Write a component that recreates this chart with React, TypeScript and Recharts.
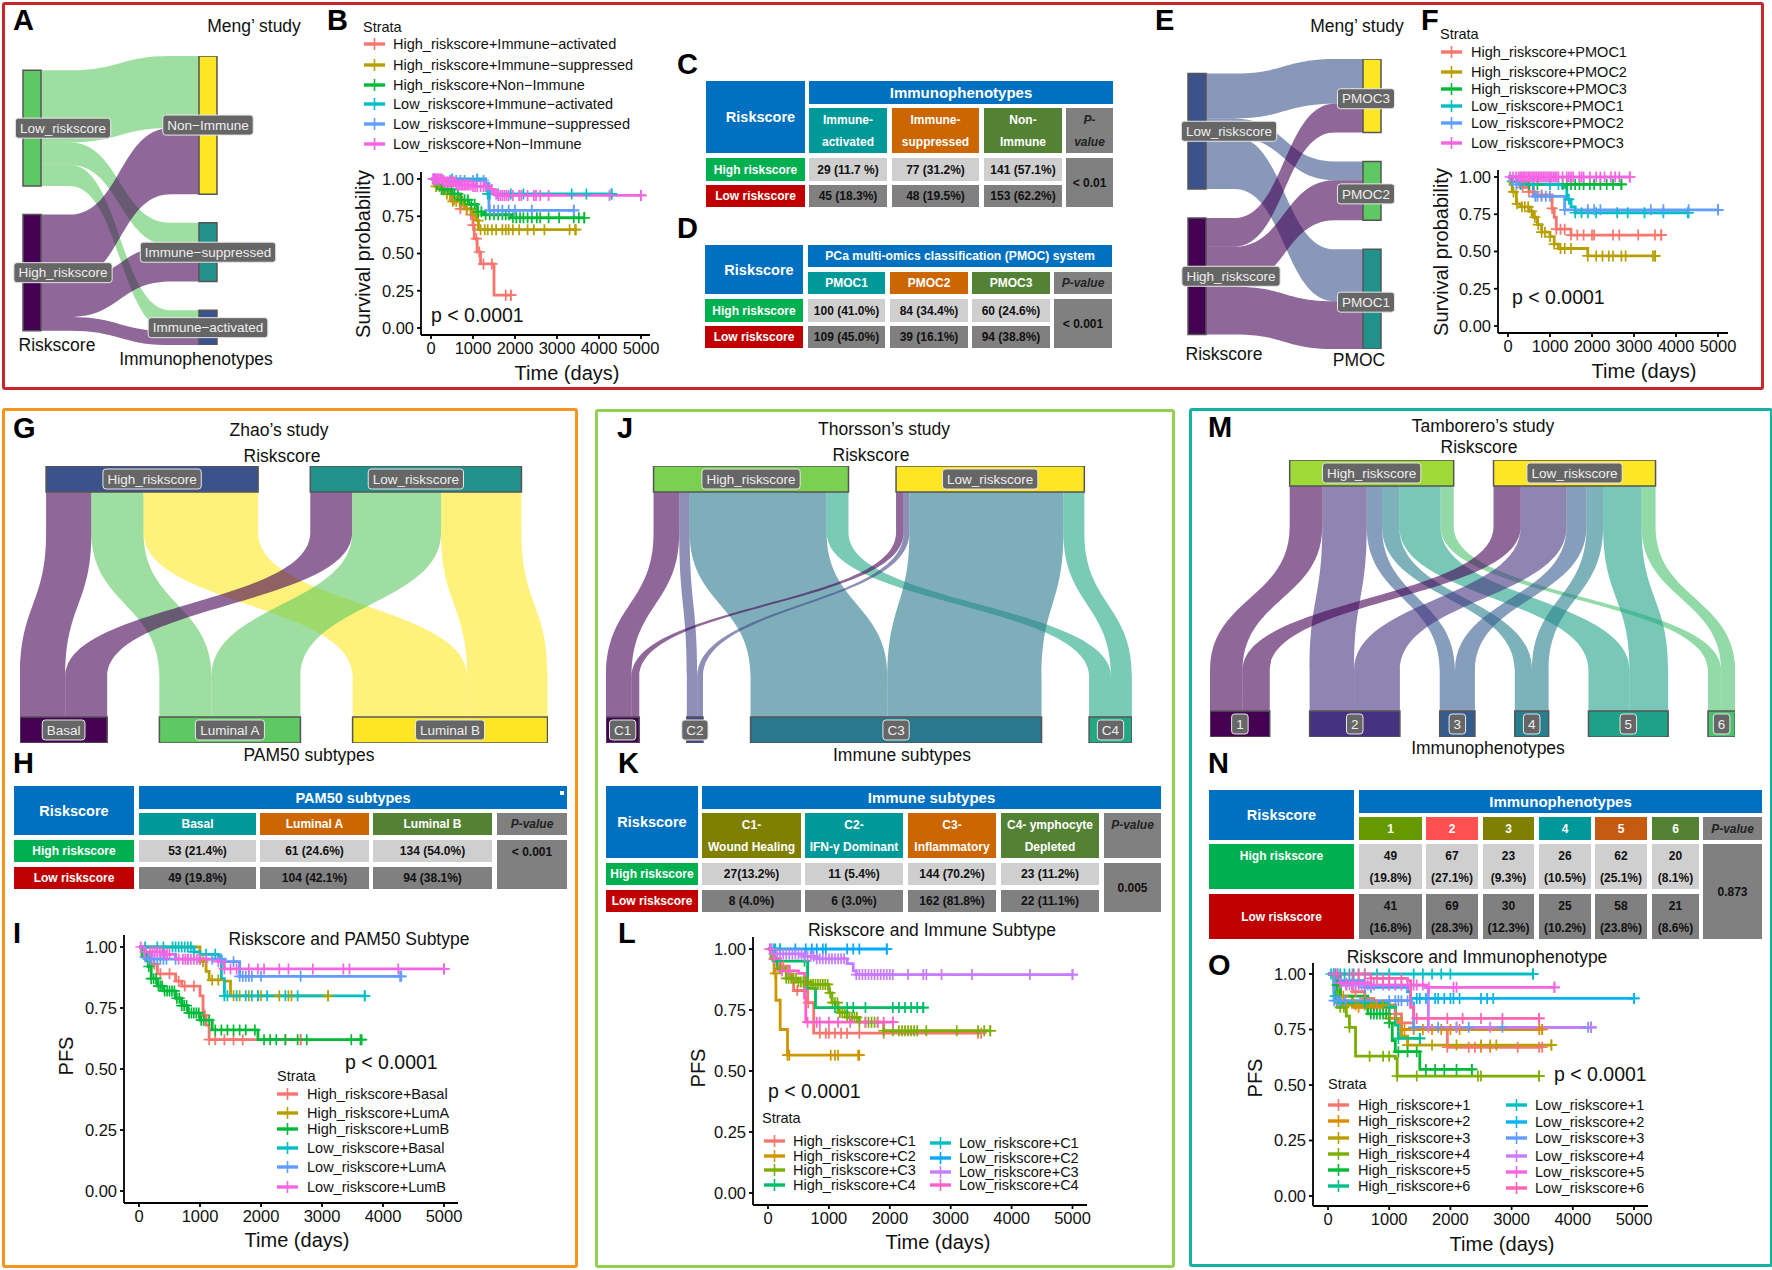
import React from "react";
import {
  Area,
  AreaChart,
  Line,
  LineChart,
  ReferenceArea,
  ReferenceDot,
  XAxis,
  YAxis,
} from "recharts";

const FONT = '"Liberation Sans", Arial, sans-serif';

// ggplot hue palettes
const HUE6 = ["#F8766D", "#B79F00", "#00BA38", "#00BFC4", "#619CFF", "#F564E3"];
const HUE8 = ["#F8766D", "#CD9600", "#7CAE00", "#00BE67", "#00BFC4", "#00A9FF", "#C77CFF", "#FF61CC"];
const HUE12 = ["#F8766D", "#DE8C00", "#B79F00", "#7CAE00", "#00BA38", "#00C08B", "#00BFC4", "#00B4F0", "#619CFF", "#C77CFF", "#F564E3", "#FF64B0"];

const TIME_TICKS = [0, 1000, 2000, 3000, 4000, 5000];
const SURV_TICKS = [0, 0.25, 0.5, 0.75, 1];

// --- alluvial counts (rows: risk group, columns: subtype)
const riskNames = ["High_riskscore", "Low_riskscore"];

const aTargets = ["Non\u2212Immune", "Immune\u2212suppressed", "Immune\u2212activated"];
const aCounts = [[153, 48, 45], [141, 77, 29]]; // Low first in this panel
const eTargets = ["PMOC3", "PMOC2", "PMOC1"];
const eCounts = [[94, 39, 109], [60, 84, 100]];
const gTargets = ["Basal", "Luminal A", "Luminal B"];
const gCounts = [[53, 61, 134], [49, 104, 94]];
const jTargets = ["C1", "C2", "C3", "C4"];
const jCounts = [[27, 11, 144, 23], [8, 6, 162, 22]];
const mTargets = ["1", "2", "3", "4", "5", "6"];
const mCounts = [[49, 67, 23, 26, 62, 20], [41, 69, 30, 25, 58, 21]];

// --- survival curves: step points [time, probability], censor times, last follow-up
const bNames = ["High_riskscore+Immune\u2212activated", "High_riskscore+Immune\u2212suppressed", "High_riskscore+Non\u2212Immune", "Low_riskscore+Immune\u2212activated", "Low_riskscore+Immune\u2212suppressed", "Low_riskscore+Non\u2212Immune"];
const bSteps = [
  [[0, 1], [100, 0.97], [300, 0.92], [500, 0.86], [700, 0.8], [950, 0.76], [1000, 0.69], [1030, 0.6], [1100, 0.51], [1180, 0.43], [1500, 0.22]],
  [[0, 1], [100, 0.95], [300, 0.9], [500, 0.85], [800, 0.8], [1000, 0.76], [1100, 0.72], [1130, 0.66]],
  [[0, 1], [100, 0.97], [250, 0.93], [500, 0.9], [700, 0.86], [900, 0.83], [1100, 0.78], [1250, 0.76], [1900, 0.74]],
  [[0, 1], [1300, 0.95], [1350, 0.9]],
  [[0, 1], [100, 0.99], [1300, 0.97], [1380, 0.79]],
  [[0, 1], [300, 0.98], [600, 0.96], [1000, 0.95], [1400, 0.93], [1500, 0.9], [1600, 0.89]],
];
const bCensors = [
  [550, 700, 850, 950, 1000, 1080, 1150, 1250, 1450, 1780, 1900],
  [120, 200, 280, 380, 450, 520, 600, 680, 750, 850, 950, 1050, 1120, 1180, 1280, 1350, 1450, 1550, 1700, 1780, 1850, 1950, 2100, 2300, 2450, 2700, 3300, 3430],
  [150, 250, 320, 400, 480, 560, 640, 720, 800, 880, 960, 1040, 1120, 1200, 1300, 1400, 1500, 1600, 1700, 1780, 1860, 1950, 2030, 2120, 2200, 2300, 2400, 2520, 2600, 2800, 3050, 3400, 3520, 3650],
  [100, 500, 1100, 1350, 1400, 1600, 1900, 2200, 3350, 3700, 4300],
  [60, 150, 300, 450, 600, 700, 800, 1000, 1100, 1250, 1400, 1500, 1600, 1700, 1850, 2000, 2400, 3400],
  [50, 90, 120, 160, 190, 230, 260, 300, 330, 370, 400, 440, 470, 510, 540, 580, 610, 650, 680, 720, 750, 790, 820, 860, 900, 950, 1000, 1050, 1100, 1180, 1250, 1300, 1450, 1550, 1600, 1650, 1700, 1750, 1800, 1850, 1950, 2100, 2150, 2300, 2450, 2500, 2600, 2800, 4250, 5000],
];
const bEnds = [1900, 3450, 3650, 4300, 3400, 5000];

const fNames = ["High_riskscore+PMOC1", "High_riskscore+PMOC2", "High_riskscore+PMOC3", "Low_riskscore+PMOC1", "Low_riskscore+PMOC2", "Low_riskscore+PMOC3"];
const fSteps = [
  [[0, 1], [200, 0.96], [300, 0.93], [500, 0.9], [650, 0.88], [1050, 0.79], [1100, 0.73], [1150, 0.65], [1500, 0.61]],
  [[0, 1], [50, 0.95], [100, 0.9], [200, 0.82], [300, 0.8], [500, 0.77], [600, 0.73], [700, 0.68], [800, 0.63], [1000, 0.6], [1100, 0.55], [1200, 0.52], [1900, 0.47]],
  [[0, 1], [100, 0.97], [500, 0.95]],
  [[0, 1], [100, 0.97], [300, 0.95], [1300, 0.93], [1400, 0.85], [1500, 0.8], [1600, 0.76]],
  [[0, 1], [200, 0.95], [600, 0.87], [1300, 0.87], [1350, 0.78]],
  [[0, 1]],
];
const fCensors = [
  [350, 500, 620, 800, 1050, 1150, 1250, 1350, 1500, 1650, 1800, 2000, 2050, 2500, 2650, 3100, 3500, 3650],
  [130, 220, 330, 400, 480, 560, 640, 720, 800, 880, 1000, 1100, 1250, 1350, 1500, 1900, 2100, 2250, 2400, 2500, 2700, 2800, 3450, 3500],
  [500, 700, 1300, 1400, 1500, 1600, 1700, 1800, 1950, 2050, 2200, 2350, 2500, 2700],
  [100, 300, 600, 1000, 1200, 1450, 1600, 1750, 1900, 2100, 2600, 2850, 3250, 3700, 4280],
  [200, 650, 700, 800, 900, 1000, 1350, 1900, 2050, 2200, 3400, 3700, 4300, 5000],
  [50, 120, 190, 250, 290, 330, 370, 400, 440, 480, 520, 560, 600, 640, 680, 720, 760, 800, 840, 880, 920, 960, 1000, 1040, 1080, 1120, 1160, 1200, 1300, 1400, 1450, 1500, 1550, 1700, 1750, 1800, 1950, 2100, 2200, 2300, 2450, 2550, 2650, 2900],
];
const fEnds = [3650, 3500, 2700, 4300, 5000, 2900];

const iNames = ["High_riskscore+Basal", "High_riskscore+LumA", "High_riskscore+LumB", "Low_riskscore+Basal", "Low_riskscore+LumA", "Low_riskscore+LumB"];
const iSteps = [
  [[0, 1], [100, 0.97], [200, 0.93], [300, 0.89], [600, 0.86], [700, 0.84], [1000, 0.8], [1050, 0.72], [1100, 0.68], [1150, 0.62]],
  [[0, 1], [1000, 0.94], [1100, 0.9], [1150, 0.865], [1400, 0.86], [1500, 0.8]],
  [[0, 1], [50, 0.96], [150, 0.92], [200, 0.87], [300, 0.84], [400, 0.82], [600, 0.79], [700, 0.76], [800, 0.73], [1000, 0.7], [1200, 0.66], [1950, 0.62]],
  [[0, 1], [900, 0.98], [1000, 0.97], [1300, 0.96], [1350, 0.87], [1400, 0.8]],
  [[0, 1], [100, 0.96], [150, 0.95], [1400, 0.94], [1650, 0.88]],
  [[0, 1], [100, 0.98], [400, 0.97], [600, 0.95], [1300, 0.94], [1400, 0.91]],
];
const iCensors = [
  [250, 350, 500, 650, 750, 900, 1080, 1150, 1250, 1400, 1550, 1700, 2400, 2650],
  [1050, 1200, 1300, 1550, 1650, 1800, 1950, 2000, 2300, 2450, 2500, 3100],
  [120, 160, 200, 240, 280, 320, 350, 380, 420, 460, 500, 540, 580, 620, 660, 700, 740, 780, 820, 860, 900, 940, 980, 1020, 1060, 1150, 1250, 1350, 1450, 1550, 1650, 1750, 1900, 2050, 2150, 2250, 2400, 2600, 2750, 3480, 3630],
  [100, 300, 400, 550, 600, 650, 700, 750, 800, 850, 900, 1100, 1250, 1400, 1450, 1600, 1750, 1850, 1950, 2100, 2400, 2600, 3700],
  [100, 150, 200, 250, 300, 350, 400, 450, 600, 800, 1000, 1200, 1350, 1550, 1650, 1700, 1750, 1800, 1850, 2000, 2650, 4280],
  [30, 100, 180, 220, 260, 300, 340, 380, 420, 460, 500, 650, 720, 760, 800, 850, 900, 950, 1000, 1100, 1300, 1400, 1500, 1600, 1800, 1950, 2050, 2300, 2450, 2850, 3350, 3450, 4250, 5000],
];
const iEnds = [2650, 3100, 3650, 3700, 4300, 5000];

const lNames = ["High_riskscore+C1", "High_riskscore+C2", "High_riskscore+C3", "High_riskscore+C4", "Low_riskscore+C1", "Low_riskscore+C2", "Low_riskscore+C3", "Low_riskscore+C4"];
const lSteps = [
  [[0, 1], [100, 0.96], [200, 0.93], [350, 0.88], [420, 0.83], [650, 0.78], [750, 0.655]],
  [[0, 1], [100, 0.9], [130, 0.79], [200, 0.67], [320, 0.565]],
  [[0, 1], [50, 0.96], [150, 0.92], [300, 0.88], [500, 0.865], [700, 0.855], [1000, 0.82], [1050, 0.78], [1150, 0.74], [1300, 0.72], [1500, 0.7], [1900, 0.665]],
  [[0, 1], [100, 0.95], [650, 0.84], [780, 0.76]],
  [[0, 1]],
  [[0, 1]],
  [[0, 1], [100, 0.98], [600, 0.97], [800, 0.96], [1300, 0.94], [1400, 0.91], [1450, 0.895]],
  [[0, 1], [100, 0.96], [200, 0.91], [500, 0.9], [600, 0.8], [620, 0.7]],
];
const lCensors = [
  [250, 400, 480, 660, 850, 950, 1000, 1100, 1200, 1300, 1500, 1900, 3450],
  [120, 320, 350, 1030, 1100, 1150, 1480],
  [100, 200, 300, 340, 380, 420, 460, 500, 540, 580, 620, 660, 700, 740, 780, 820, 860, 900, 940, 980, 1020, 1060, 1100, 1140, 1180, 1220, 1260, 1300, 1340, 1380, 1420, 1460, 1500, 1600, 1650, 1700, 1750, 1800, 1900, 2050, 2150, 2200, 2250, 2300, 2350, 2400, 2450, 2600, 3100, 3450, 3550, 3650],
  [150, 600, 1100, 1300, 1400, 1600, 2050, 2150, 2250, 2350, 2450, 2550],
  [60, 120, 200],
  [100, 450, 620, 720, 800, 900, 950, 1300, 1400, 1500, 1950],
  [50, 100, 150, 200, 250, 300, 350, 400, 450, 500, 550, 600, 650, 700, 750, 800, 850, 900, 950, 1000, 1050, 1100, 1150, 1200, 1250, 1450, 1500, 1550, 1600, 1650, 1700, 1750, 1800, 1850, 1900, 1950, 2000, 2050, 2300, 2550, 2600, 2850, 3350, 4300, 5000],
  [30, 100, 230, 350, 650, 800, 850, 1000, 1150, 1350, 1600, 1800, 1900, 2050],
];
const lEnds = [3500, 1500, 3650, 2550, 200, 1950, 5000, 2050];

const oNames = ["High_riskscore+1", "High_riskscore+2", "High_riskscore+3", "High_riskscore+4", "High_riskscore+5", "High_riskscore+6", "Low_riskscore+1", "Low_riskscore+2", "Low_riskscore+3", "Low_riskscore+4", "Low_riskscore+5", "Low_riskscore+6"];
const oSteps = [
  [[0, 1], [200, 0.95], [400, 0.92], [600, 0.89], [750, 0.86], [1100, 0.82], [1200, 0.78], [1400, 0.75], [1950, 0.67]],
  [[0, 1], [200, 0.9], [400, 0.85], [1000, 0.8], [1150, 0.78], [1200, 0.75]],
  [[0, 1], [150, 0.92], [200, 0.86], [1100, 0.8], [1200, 0.72], [1300, 0.68]],
  [[0, 1], [100, 0.92], [150, 0.85], [300, 0.81], [350, 0.76], [450, 0.63], [1100, 0.62], [1130, 0.54]],
  [[0, 1], [100, 0.95], [200, 0.9], [650, 0.82], [1000, 0.78], [1050, 0.7], [1100, 0.65], [1500, 0.57]],
  [[0, 1], [100, 0.9], [150, 0.87], [1000, 0.85], [1100, 0.77], [1150, 0.71]],
  [[0, 1]],
  [[0, 1], [150, 0.97], [600, 0.94], [1300, 0.92], [1350, 0.89]],
  [[0, 1], [100, 0.88], [1350, 0.87], [1400, 0.76]],
  [[0, 1], [200, 0.95], [1600, 0.94], [1640, 0.76]],
  [[0, 1], [200, 0.96], [700, 0.95], [1600, 0.94]],
  [[0, 1], [700, 0.98], [1300, 0.97], [1350, 0.85], [1400, 0.8]],
];
const oCensors = [
  [300, 450, 600, 800, 1100, 1200, 1950, 2300, 2400, 2500, 2650, 3100, 3450],
  [250, 500, 700, 1000, 1250, 1400, 1550, 1700, 1850, 2000, 2150, 3450, 3500],
  [300, 450, 600, 750, 900, 1300, 1700, 2100, 2500, 2650, 2750, 3650],
  [200, 260, 350, 680, 900, 1000, 1130, 1450, 2450, 2500, 3450],
  [150, 700, 750, 800, 850, 900, 950, 1000, 1150, 1300, 1450, 1600, 1750, 1900, 2100, 2350],
  [120, 200, 600, 1000, 1150, 1500],
  [50, 90, 120, 160, 200, 270, 350, 420, 500, 600, 800, 1000, 1400, 1550, 1700, 1850, 2000, 3350],
  [100, 600, 700, 1450, 1500, 1600, 1750, 1800, 1900, 2000, 2050, 2150, 2500, 2600, 2700, 5000],
  [100, 150, 200, 280, 1000, 1100, 1150, 1200, 1300, 1400, 1800, 2100, 2300, 2850, 4250],
  [300, 350, 400, 450, 500, 550, 600, 650, 700, 1000, 1100, 1300, 1640, 2100, 2650, 4300],
  [100, 200, 300, 400, 500, 600, 750, 900, 1000, 1100, 1200, 1300, 1400, 1450, 1550, 1650, 2050, 2100, 3700],
  [150, 400, 500, 600, 700, 800, 900, 1000, 1200, 1450, 1950, 2200, 2500, 2850, 3450],
];
const oEnds = [3500, 3500, 3650, 3450, 2350, 1500, 3350, 5000, 4300, 4300, 3700, 3450];

// --- table contents
const cSubs = [["Immune-", "activated"], ["Immune-", "suppressed"], ["Non-", "Immune"]];
const cHigh = ["29 (11.7 %)", "77 (31.2%)", "141 (57.1%)"];
const cLow = ["45 (18.3%)", "48 (19.5%)", "153 (62.2%)"];
const dSubs = [["PMOC1"], ["PMOC2"], ["PMOC3"]];
const dHigh = ["100 (41.0%)", "84 (34.4%)", "60 (24.6%)"];
const dLow = ["109 (45.0%)", "39 (16.1%)", "94 (38.8%)"];
const hSubs = [["Basal"], ["Luminal A"], ["Luminal B"]];
const hHigh = ["53 (21.4%)", "61 (24.6%)", "134 (54.0%)"];
const hLow = ["49 (19.8%)", "104 (42.1%)", "94 (38.1%)"];
const kSubs = [["C1-", "Wound Healing"], ["C2-", "IFN-\u03b3 Dominant"], ["C3-", "Inflammatory"], ["C4- ymphocyte", "Depleted"]];
const kHigh = ["27(13.2%)", "11 (5.4%)", "144 (70.2%)", "23 (11.2%)"];
const kLow = ["8 (4.0%)", "6 (3.0%)", "162 (81.8%)", "22 (11.1%)"];
const nSubs = [["1"], ["2"], ["3"], ["4"], ["5"], ["6"]];
const nHigh = [["49", "(19.8%)"], ["67", "(27.1%)"], ["23", "(9.3%)"], ["26", "(10.5%)"], ["62", "(25.1%)"], ["20", "(8.1%)"]];
const nLow = [["41", "(16.8%)"], ["69", "(28.3%)"], ["30", "(12.3%)"], ["25", "(10.2%)"], ["58", "(23.8%)"], ["21", "(8.6%)"]];

const BLUE = "#0070c0";
const TEAL = "#009999";
const ORANGE = "#cc6600";
const GREEN = "#548235";
const OLIVE = "#808000";
const GREY = "#808080";
const LIGHT = "#d0cfcf";

function Txt({ x, y, size = 17.5, left = false, rotate = 0, bold = false, color = "#111", children }: any) {
  return (
    <div
      style={{
        position: "absolute",
        left: x,
        top: y + 1,
        transform: `translate(${left ? "0" : "-50%"}, -50%) rotate(${rotate}deg)`,
        fontFamily: FONT,
        fontSize: size,
        fontWeight: bold ? 700 : 400,
        color,
        whiteSpace: "nowrap",
        lineHeight: 1,
      }}
    >
      {children}
    </div>
  );
}

function Letter({ x, y, children }: any) {
  return (
    <div style={{ position: "absolute", left: x, top: y, fontFamily: FONT, fontSize: 29, fontWeight: 700, lineHeight: "20px", color: "#000" }}>
      {children}
    </div>
  );
}

function Frame({ x0, y0, x1, y1, color }: any) {
  return (
    <div style={{ position: "absolute", left: x0, top: y0, width: x1 - x0, height: y1 - y0, border: `3px solid ${color}`, borderRadius: 3, boxSizing: "border-box" }} />
  );
}

function textWidth(text: string, size: number) {
  const ctx = document.createElement("canvas").getContext("2d");
  if (!ctx) return text.length * size * 0.5;
  ctx.font = `${size}px "Liberation Sans"`;
  return ctx.measureText(text).width;
}

function StratumLabel({ cx, cy, text, shift = 0, lift = 0 }: any) {
  const w = textWidth(text, 13.5) + 9;
  const x = cx + shift;
  const y = cy + lift;
  return (
    <g>
      <rect x={x - w / 2} y={y - 10} width={w} height={20} rx={3} fill="#666" stroke="#e8e8e8" strokeWidth={1} />
      <text x={x} y={y + 4.7} textAnchor="middle" fontFamily={FONT} fontSize={13.5} fill="#eee">
        {text}
      </text>
    </g>
  );
}

function Alluvial({ vertical = false, posStart, posEnd, thick, crossStart, k, gap, pre = 0, post = 0, namesA, colorsA, namesB, colorsB, counts, flowByA = false, shiftA = [], shiftB = [], liftB = 0 }: any) {
  const totalsA = counts.map((r: number[]) => r.reduce((a, b) => a + b, 0));
  const totalsB = namesB.map((_: string, j: number) => counts.reduce((s: number, r: number[]) => s + r[j], 0));
  const lenA = totalsA.reduce((a: number, b: number) => a + b, 0) + gap * (totalsA.length - 1);
  const lenB = totalsB.reduce((a: number, b: number) => a + b, 0) + gap * (totalsB.length - 1);
  const len = Math.max(lenA, lenB);

  const startsA: number[] = [];
  let run = (len - lenA) / 2;
  totalsA.forEach((t: number) => { startsA.push(run); run += t + gap; });
  const startsB: number[] = [];
  run = (len - lenB) / 2;
  totalsB.forEach((t: number) => { startsB.push(run); run += t + gap; });

  const flows: any[] = [];
  const cursorB = [...startsB];
  counts.forEach((row: number[], i: number) => {
    let cursorA = startsA[i];
    row.forEach((v, j) => {
      flows.push({ key: `f${flows.length}`, a: [cursorA, cursorA + v], b: [cursorB[j], cursorB[j] + v], color: flowByA ? colorsA[i] : colorsB[j] });
      cursorA += v;
      cursorB[j] += v;
    });
  });

  const bend = 0.18;
  const rows = [0, bend, 1 - bend, 1].map((pos, idx) => {
    const row: any = { pos };
    flows.forEach((f) => { row[f.key] = idx < 2 ? f.a : f.b; });
    return row;
  });

  const span = posEnd - posStart;
  const posDomain = [-(thick + pre) / span, 1 + (thick + post) / span];
  const along = span + 2 * thick + pre + post;
  const across = len * k;
  const w0 = -thick / span;
  const w1 = 1 + thick / span;

  const box = (p0: number, p1: number, c0: number, c1: number) =>
    vertical ? { x1: c0, x2: c1, y1: p0, y2: p1 } : { x1: p0, x2: p1, y1: c0, y2: c1 };
  const dot = (p: number, c: number) => (vertical ? { x: c, y: p } : { x: p, y: c });

  return (
    <div style={{ position: "absolute", left: vertical ? crossStart : posStart - thick - pre, top: vertical ? posStart - thick - pre : crossStart }}>
      <AreaChart
        width={vertical ? across : along}
        height={vertical ? along : across}
        data={rows}
        layout={vertical ? "vertical" : "horizontal"}
        margin={{ top: 0, right: 0, bottom: 0, left: 0 }}
      >
        {vertical ? (
          <XAxis hide type="number" domain={[0, len]} />
        ) : (
          <XAxis hide type="number" dataKey="pos" domain={posDomain} />
        )}
        {vertical ? (
          <YAxis hide type="number" dataKey="pos" domain={posDomain} />
        ) : (
          <YAxis hide reversed type="number" domain={[0, len]} />
        )}
        {flows.map((f) => (
          <Area
            key={f.key}
            dataKey={f.key}
            type={vertical ? "bumpY" : "bumpX"}
            stroke="none"
            fill={f.color}
            fillOpacity={0.6}
            dot={false}
            activeDot={false}
            isAnimationActive={false}
          />
        ))}
        {namesA.map((n: string, i: number) => (
          <ReferenceArea key={n} {...box(w0, 0, startsA[i], startsA[i] + totalsA[i])} fill={colorsA[i]} fillOpacity={1} stroke="#555" strokeWidth={1.5} />
        ))}
        {namesB.map((n: string, j: number) => (
          <ReferenceArea key={n} {...box(1, w1, startsB[j], startsB[j] + totalsB[j])} fill={colorsB[j]} fillOpacity={1} stroke="#555" strokeWidth={1.5} />
        ))}
        {namesA.map((n: string, i: number) => (
          <ReferenceDot key={n} {...dot(w0 / 2, startsA[i] + totalsA[i] / 2)} ifOverflow="visible" shape={(p: any) => <StratumLabel cx={p.cx} cy={p.cy} text={n} shift={shiftA[i] ?? 0} />} />
        ))}
        {namesB.map((n: string, j: number) => (
          <ReferenceDot key={n} {...dot((1 + w1) / 2, startsB[j] + totalsB[j] / 2)} ifOverflow="visible" shape={(p: any) => <StratumLabel cx={p.cx} cy={p.cy} text={n} shift={shiftB[j] ?? 0} lift={liftB} />} />
        ))}
      </AreaChart>
    </div>
  );
}

function survivalAt(steps: number[][], t: number) {
  let s = 1;
  for (const [time, value] of steps) if (time <= t) s = value;
  return s;
}

function censorDot(color: string) {
  return (p: any) => {
    if (!p.payload?.censored) return <g key={p.index} />;
    return <path key={p.index} d={`M${p.cx - 5.5},${p.cy}H${p.cx + 5.5}M${p.cx},${p.cy - 5.5}V${p.cy + 5.5}`} stroke={color} strokeWidth={1.7} fill="none" />;
  };
}

function Survival({ axisX, axisRight, top, bottom, x0, x5000, y1, y0, steps, censors, ends, colors }: any) {
  const YW = 50;
  const XH = 36;
  const TOP_PAD = 8; // room so the 1.00 tick label is not clipped by the svg edge
  const plotW = axisRight - axisX;
  const plotH = bottom - top;
  const perDay = (x5000 - x0) / 5000;
  const perUnit = y0 - y1;
  const xDomain = [-(x0 - axisX) / perDay, (axisRight - x0) / perDay];
  const yDomain = [-(bottom - y0) / perUnit, 1 + (y1 - top) / perUnit];
  const tick = { fill: "#111", fontSize: 16.5, fontFamily: FONT };
  const axisLine = { stroke: "#000", strokeWidth: 1.8 };
  return (
    <div style={{ position: "absolute", left: axisX - YW, top: top - TOP_PAD }}>
      <LineChart width={YW + plotW + 25} height={plotH + XH + TOP_PAD} margin={{ top: TOP_PAD, right: 25, bottom: 0, left: 0 }}>
        <XAxis type="number" dataKey="t" domain={xDomain} ticks={TIME_TICKS} height={XH} tick={tick} axisLine={axisLine} tickLine={axisLine} tickSize={4} tickMargin={3} interval={0} />
        <YAxis type="number" domain={yDomain} ticks={SURV_TICKS} width={YW} tick={tick} axisLine={axisLine} tickLine={axisLine} tickSize={4} tickMargin={3} interval={0} tickFormatter={(v: number) => v.toFixed(2)} />
        {steps.map((st: number[][], i: number) => {
          const rows = [
            ...st.map(([t, s]) => ({ t, s, censored: false })),
            ...censors[i].map((t: number) => ({ t, s: survivalAt(st, t), censored: true })),
            { t: ends[i], s: survivalAt(st, ends[i]), censored: true },
          ].sort((a, b) => a.t - b.t);
          return (
            <Line key={i} data={rows} dataKey="s" type="stepAfter" stroke={colors[i]} strokeWidth={2.8} dot={censorDot(colors[i])} activeDot={false} isAnimationActive={false} />
          );
        })}
      </LineChart>
    </div>
  );
}

function LegendRows({ keyX, textX, ys, names, colors, size = 14.5 }: any) {
  return (
    <>
      {names.map((n: string, i: number) => (
        <React.Fragment key={n}>
          <svg style={{ position: "absolute", left: keyX, top: ys[i] - 9 }} width={21} height={18}>
            <path d="M0,9H21" stroke={colors[i]} strokeWidth={3.4} />
            <path d="M10.5,3V15" stroke={colors[i]} strokeWidth={1.6} />
          </svg>
          <Txt x={textX} y={ys[i] - 1} left size={size}>{n}</Txt>
        </React.Fragment>
      ))}
    </>
  );
}

function Cell({ x, y, bg, color = "#fff", size = 12, bold = true, italic = false, lines, gap = 22, pad = 0, alignTop = false, topPad = 0 }: any) {
  return (
    <div
      style={{
        position: "absolute",
        left: x[0],
        top: y[0],
        width: x[1] - x[0],
        height: y[1] - y[0],
        background: bg,
        color,
        fontFamily: FONT,
        fontSize: size,
        fontWeight: bold ? 700 : 400,
        fontStyle: italic ? "italic" : "normal",
        display: "flex",
        flexDirection: "column",
        alignItems: "center",
        justifyContent: alignTop ? "flex-start" : "center",
        paddingLeft: pad,
        paddingTop: topPad,
        boxSizing: "border-box",
        lineHeight: `${gap}px`,
        whiteSpace: "nowrap",
      }}
    >
      {lines.map((l: string, i: number) => (<span key={i}>{l}</span>))}
    </div>
  );
}

function RiskTable({ left, head, headY, title, titleSize = 15, subY, cols, subs, subColors, highY, lowY, high, low, pLabel, pLabelTop = 0, pValue, pTop = 0, riskPad = 0, highTop = 0 }: any) {
  const pCol = cols[cols.length - 1];
  return (
    <>
      <Cell x={left} y={[headY[0], subY[1]]} bg={BLUE} size={14.5} lines={["Riskscore"]} pad={riskPad} />
      <Cell x={head} y={headY} bg={BLUE} size={titleSize} lines={[title]} />
      {subs.map((s: string[], i: number) => (
        <Cell key={i} x={cols[i]} y={subY} bg={subColors[i]} lines={s} />
      ))}
      <Cell x={pCol} y={subY} bg={GREY} color="#222" italic lines={pLabel} alignTop={pLabelTop > 0} topPad={pLabelTop} />
      <Cell x={left} y={highY} bg="#00b050" lines={["High riskscore"]} alignTop={highTop > 0} topPad={highTop} />
      <Cell x={left} y={lowY} bg="#c00000" lines={["Low riskscore"]} />
      {high.map((v: any, i: number) => (
        <Cell key={i} x={cols[i]} y={highY} bg={LIGHT} color="#111" lines={Array.isArray(v) ? v : [v]} />
      ))}
      {low.map((v: any, i: number) => (
        <Cell key={i} x={cols[i]} y={lowY} bg={GREY} color="#111" lines={Array.isArray(v) ? v : [v]} />
      ))}
      <Cell x={pCol} y={[highY[0], lowY[1]]} bg={GREY} color="#111" lines={[pValue]} alignTop={pTop > 0} topPad={pTop} />
    </>
  );
}

export default function App() {
  return (
    <div style={{ position: "absolute", left: 0, top: 0, width: 1772, height: 1270, background: "#fff", overflow: "hidden" }}>
      <Frame x0={2} y0={2} x1={1764} y1={390} color="#c9252d" />
      <Frame x0={2} y0={408} x1={578} y1={1268} color="#f7941d" />
      <Frame x0={595} y0={409} x1={1175} y1={1268} color="#92d050" />
      <Frame x0={1189} y0={408} x1={1773} y1={1267} color="#14b3a3" />

      {/* A */}
      <Letter x={13} y={10}>A</Letter>
      <Txt x={254} y={26}>Meng&rsquo; study</Txt>
      <Alluvial posStart={41} posEnd={199} thick={18} crossStart={56} k={0.47} gap={61} pre={10} post={70}
        namesA={["Low_riskscore", "High_riskscore"]} colorsA={["#5ec962", "#440154"]}
        namesB={aTargets} colorsB={["#fde725", "#21918c", "#3b528b"]} counts={aCounts} flowByA shiftA={[31, 31]} />
      <Txt x={57} y={345}>Riskscore</Txt>
      <Txt x={196} y={359}>Immunophenotypes</Txt>

      {/* B */}
      <Letter x={327} y={10}>B</Letter>
      <Txt x={363} y={26} left size={14.5}>Strata</Txt>
      <LegendRows keyX={364} textX={393} ys={[44, 65, 85, 104, 124, 144]} names={bNames} colors={HUE6} />
      <Survival axisX={421} axisRight={650} top={172} bottom={335} x0={431} x5000={641} y1={179} y0={328} steps={bSteps} censors={bCensors} ends={bEnds} colors={HUE6} />
      <Txt x={363} y={253} size={20} rotate={-90}>Survival probability</Txt>
      <Txt x={567} y={372} size={20}>Time (days)</Txt>
      <Txt x={431} y={315} left size={19.5}>p &lt; 0.0001</Txt>

      {/* C */}
      <Letter x={677} y={54}>C</Letter>
      <RiskTable left={[706, 805]} head={[809, 1113]} headY={[81, 104]} title="Immunophenotypes" subY={[108, 153]}
        cols={[[809, 887], [892, 979], [984, 1062], [1066, 1113]]} subs={cSubs} subColors={[TEAL, ORANGE, GREEN]}
        highY={[158, 181]} lowY={[185, 207]} high={cHigh} low={cLow} pLabel={["P-", "value"]} pValue="< 0.01" riskPad={10} />

      {/* D */}
      <Letter x={677} y={218}>D</Letter>
      <RiskTable left={[705, 803]} head={[808, 1112]} headY={[245, 267]} title="PCa multi-omics classification (PMOC) system" titleSize={12.2} subY={[272, 294]}
        cols={[[808, 885], [890, 968], [972, 1050], [1054, 1112]]} subs={dSubs} subColors={[TEAL, ORANGE, GREEN]}
        highY={[299, 322]} lowY={[326, 348]} high={dHigh} low={dLow} pLabel={["P-value"]} pValue="< 0.001" riskPad={10} />

      {/* E */}
      <Letter x={1155} y={10}>E</Letter>
      <Txt x={1357} y={26}>Meng&rsquo; study</Txt>
      <Alluvial posStart={1206} posEnd={1363} thick={18} crossStart={59} k={0.477} gap={61} pre={10} post={30}
        namesA={["Low_riskscore", "High_riskscore"]} colorsA={["#3b528b", "#440154"]}
        namesB={eTargets} colorsB={["#fde725", "#5ec962", "#21918c"]} counts={eCounts} flowByA shiftA={[32, 34]} shiftB={[-6, -6, -6]} liftB={3} />
      <Txt x={1224} y={354}>Riskscore</Txt>
      <Txt x={1359} y={360}>PMOC</Txt>

      {/* F */}
      <Letter x={1421} y={10}>F</Letter>
      <Txt x={1440} y={33} left size={14.5}>Strata</Txt>
      <LegendRows keyX={1441} textX={1471} ys={[52, 72, 89, 106, 123, 143]} names={fNames} colors={HUE6} />
      <Survival axisX={1498} axisRight={1728} top={170} bottom={333} x0={1508} x5000={1718} y1={177} y0={326} steps={fSteps} censors={fCensors} ends={fEnds} colors={HUE6} />
      <Txt x={1441} y={251} size={20} rotate={-90}>Survival probability</Txt>
      <Txt x={1644} y={370} size={20}>Time (days)</Txt>
      <Txt x={1512} y={297} left size={19.5}>p &lt; 0.0001</Txt>

      {/* G */}
      <Letter x={13} y={418}>G</Letter>
      <Txt x={279} y={430}>Zhao&rsquo;s study</Txt>
      <Txt x={282} y={456}>Riskscore</Txt>
      <Alluvial vertical posStart={492} posEnd={717} thick={26} crossStart={20} k={0.855} gap={61}
        namesA={riskNames} colorsA={["#3b528b", "#21918c"]} namesB={gTargets} colorsB={["#440154", "#5ec962", "#fde725"]} counts={gCounts} />
      <Txt x={309} y={755}>PAM50 subtypes</Txt>

      {/* H */}
      <Letter x={13} y={753}>H</Letter>
      <RiskTable left={[14, 134]} head={[139, 567]} headY={[786, 809]} title="PAM50 subtypes" titleSize={14.5} subY={[813, 835]}
        cols={[[139, 256], [260, 369], [373, 492], [497, 567]]} subs={hSubs} subColors={[TEAL, ORANGE, GREEN]}
        highY={[840, 862]} lowY={[867, 889]} high={hHigh} low={hLow} pLabel={["P-value"]} pValue="< 0.001" pTop={1} />
      <div style={{ position: "absolute", left: 560, top: 791, width: 4, height: 4, background: "#fff" }} />

      {/* I */}
      <Letter x={13} y={923}>I</Letter>
      <Survival axisX={124} axisRight={458} top={935} bottom={1203} x0={139} x5000={444} y1={947} y0={1191} steps={iSteps} censors={iCensors} ends={iEnds} colors={HUE6} />
      <Txt x={349} y={939} size={17.5}>Riskscore and PAM50 Subtype</Txt>
      <Txt x={66} y={1055} size={20} rotate={-90}>PFS</Txt>
      <Txt x={297} y={1239} size={20}>Time (days)</Txt>
      <Txt x={345} y={1062} left size={19.5}>p &lt; 0.0001</Txt>
      <Txt x={277} y={1075} left size={14.5}>Strata</Txt>
      <LegendRows keyX={277} textX={307} ys={[1094, 1113, 1129, 1148, 1167, 1187]} names={iNames} colors={HUE6} />

      {/* J */}
      <Letter x={617} y={418}>J</Letter>
      <Txt x={884} y={429}>Thorsson&rsquo;s study</Txt>
      <Txt x={871} y={455}>Riskscore</Txt>
      <Alluvial vertical posStart={492} posEnd={717} thick={26} crossStart={606} k={0.951} gap={50}
        namesA={riskNames} colorsA={["#7ad151", "#fde725"]} namesB={jTargets} colorsB={["#440154", "#414487", "#2a788e", "#22a884"]} counts={jCounts} />
      <Txt x={902} y={755}>Immune subtypes</Txt>

      {/* K */}
      <Letter x={618} y={753}>K</Letter>
      <RiskTable left={[606, 698]} head={[702, 1161]} headY={[786, 809]} title="Immune subtypes" subY={[813, 858]}
        cols={[[702, 801], [805, 903], [908, 996], [1001, 1099], [1104, 1161]]} subs={kSubs} subColors={[OLIVE, TEAL, ORANGE, GREEN]}
        highY={[863, 885]} lowY={[890, 912]} high={kHigh} low={kLow} pLabel={["P-value"]} pLabelTop={1} pValue="0.005" />

      {/* L */}
      <Letter x={618} y={923}>L</Letter>
      <Survival axisX={753} axisRight={1087} top={937} bottom={1205} x0={768} x5000={1072.5} y1={949} y0={1193} steps={lSteps} censors={lCensors} ends={lEnds} colors={HUE8} />
      <Txt x={932} y={930} size={17.5}>Riskscore and Immune Subtype</Txt>
      <Txt x={698} y={1067} size={20} rotate={-90}>PFS</Txt>
      <Txt x={938} y={1241} size={20}>Time (days)</Txt>
      <Txt x={768} y={1091} left size={19.5}>p &lt; 0.0001</Txt>
      <Txt x={762} y={1117} left size={14.5}>Strata</Txt>
      <LegendRows keyX={764} textX={793} ys={[1141, 1156, 1170, 1185]} names={lNames.slice(0, 4)} colors={HUE8.slice(0, 4)} />
      <LegendRows keyX={930} textX={959} ys={[1143, 1158, 1172, 1185]} names={lNames.slice(4)} colors={HUE8.slice(4)} />

      {/* M */}
      <Letter x={1208} y={417}>M</Letter>
      <Txt x={1483} y={426}>Tamborero&rsquo;s study</Txt>
      <Txt x={1479} y={447}>Riskscore</Txt>
      <Alluvial vertical posStart={486} posEnd={711} thick={26} crossStart={1210} k={0.664} gap={60}
        namesA={riskNames} colorsA={["#a0da39", "#fde725"]} namesB={mTargets} colorsB={["#440154", "#46327e", "#365c8d", "#277f8e", "#1fa187", "#4ac16d"]} counts={mCounts} />
      <Txt x={1488} y={748}>Immunophenotypes</Txt>

      {/* N */}
      <Letter x={1208} y={753}>N</Letter>
      <RiskTable left={[1209, 1354]} head={[1359, 1762]} headY={[790, 813]} title="Immunophenotypes" subY={[817, 840]}
        cols={[[1359, 1422], [1426, 1478], [1483, 1534], [1539, 1591], [1595, 1647], [1652, 1699], [1703, 1762]]} subs={nSubs}
        subColors={["#669900", "#ff5050", OLIVE, TEAL, "#c55a11", GREEN]}
        highY={[844, 889]} lowY={[894, 939]} high={nHigh} low={nLow} pLabel={["P-value"]} pValue="0.873" highTop={1} />

      {/* O */}
      <Letter x={1208} y={955}>O</Letter>
      <Survival axisX={1313} axisRight={1648} top={963} bottom={1206} x0={1328} x5000={1634} y1={974} y0={1196} steps={oSteps} censors={oCensors} ends={oEnds} colors={HUE12} />
      <Txt x={1477} y={957} size={17.5}>Riskscore and Immunophenotype</Txt>
      <Txt x={1255} y={1077} size={20} rotate={-90}>PFS</Txt>
      <Txt x={1502} y={1243} size={20}>Time (days)</Txt>
      <Txt x={1554} y={1074} left size={19.5}>p &lt; 0.0001</Txt>
      <Txt x={1328} y={1083} left size={14.5}>Strata</Txt>
      <LegendRows keyX={1328} textX={1358} ys={[1105, 1121, 1138, 1154, 1170, 1186]} names={oNames.slice(0, 6)} colors={HUE12.slice(0, 6)} />
      <LegendRows keyX={1506} textX={1535} ys={[1105, 1122, 1138, 1156, 1172, 1188]} names={oNames.slice(6)} colors={HUE12.slice(6)} />
    </div>
  );
}
